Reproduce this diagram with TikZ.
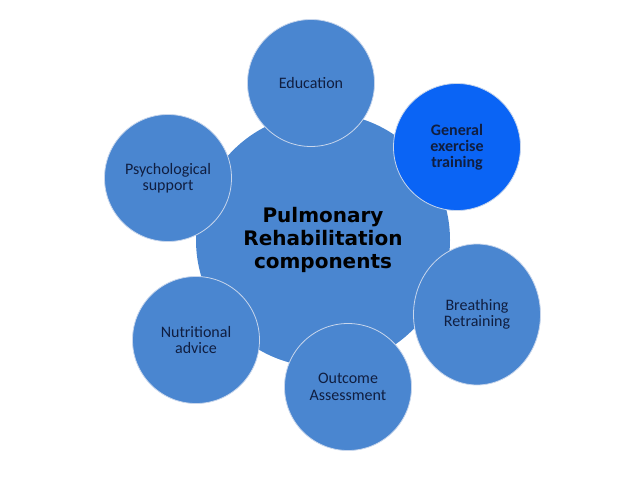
\documentclass[tikz,border=0pt]{standalone}
\usepackage{fontspec}
\setmainfont{Carlito}
\newfontfamily\headfont{DejaVu Sans}
\usetikzlibrary{shapes.geometric}
\definecolor{petal}{RGB}{74,134,208}
\definecolor{accentblue}{RGB}{10,100,245}
\definecolor{navytext}{RGB}{16,30,64}
\definecolor{rimline}{RGB}{200,214,236}

\begin{document}
\begin{tikzpicture}[x=1pt,y=-1pt,
  petalnode/.style={ellipse,draw=rimline,line width=0.8pt,inner sep=0pt,minimum width=127pt,align=center,text=navytext,font=\fontsize{16}{16.5}\selectfont},
  plain/.style={},
  strong/.style={font=\fontsize{16}{16}\selectfont\bfseries}]
\useasboundingbox (0,0) rectangle (638,479);
\node[circle,fill=petal,minimum size=254pt,inner sep=0pt,align=center,font=\headfont\bfseries\fontsize{20}{23}\selectfont] (hub) at (323,240) {Pulmonary\\Rehabilitation\\components};
\foreach \n/\x/\y/\h/\c/\s/\t in {educ/311/83/127/petal/plain/{Education},
  exer/457/147/127/accentblue/strong/{General\\exercise\\training},
  breath/477/314.5/141/petal/plain/{Breathing\\Retraining},
  outcome/348/387/127/petal/plain/{Outcome\\Assessment},
  nutri/196/340/127/petal/plain/{Nutritional\\advice},
  psych/168/178/127/petal/plain/{Psychological\\support}}
 { \node[petalnode,fill=\c,minimum height=\h pt,\s] (\n) at (\x,\y) {\t}; }
\end{tikzpicture}
\end{document}
